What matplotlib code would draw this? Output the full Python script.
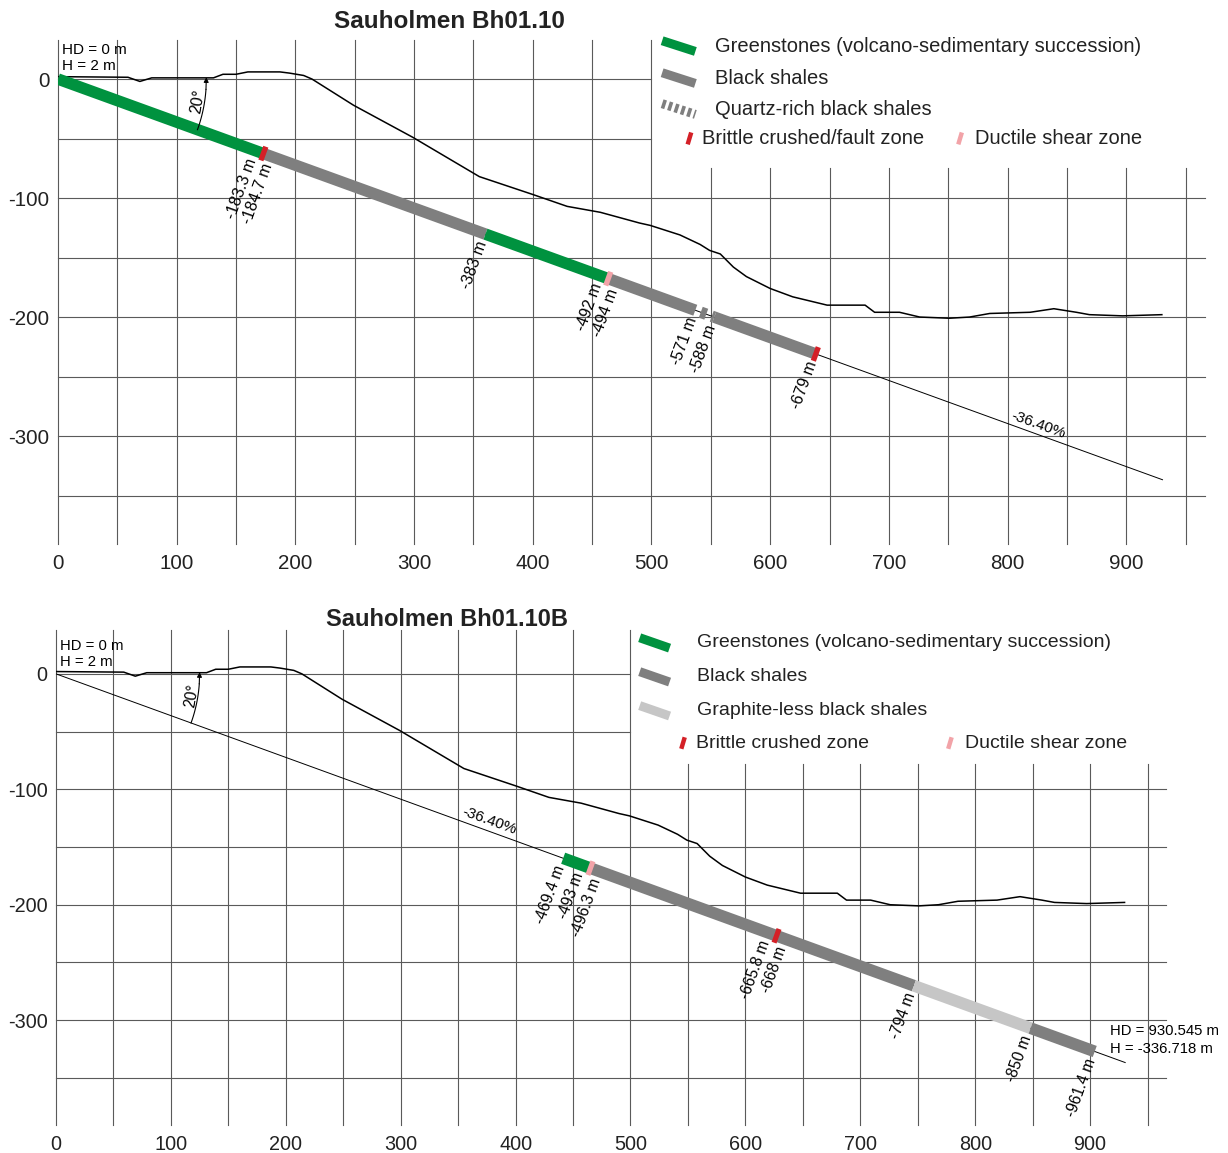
import numpy as np
import matplotlib.pyplot as plt

plt.rcParams['font.family'] = ['Liberation Sans', 'DejaVu Sans']
plt.rcParams['lines.scale_dashes'] = False
plt.rcParams['axes.unicode_minus'] = False

# end of both holes (horizontal distance / height)
end_hd = 930.545
end_h = -336.718
slope_text = '-36.40%'

# ground surface along the section (same for both holes)
terrain_hd = [0, 59, 69, 79, 131, 139, 150, 160, 187, 195, 207, 214, 249, 299,
              355, 400, 429, 457, 490, 499, 524, 541, 549, 558, 569, 580, 600,
              619, 648, 680, 688, 709, 726, 751, 768, 785, 819, 839, 858, 869,
              897, 930]
terrain_h = [2, 1.5, -2, 1, 1, 4, 4, 6, 6, 5, 3, 0, -22, -49,
             -82, -97, -107, -112, -121, -123, -131, -139, -144, -147, -158, -166, -176,
             -183, -190, -190, -196, -196, -200, -201, -200, -197, -196, -193, -196, -198,
             -199, -198]

# Bh01.10 (depths along hole, m)
a_from = [0.0, 184.7, 383.0, 494.0, 571.0, 588.0]
a_to = [183.3, 383.0, 492.0, 571.0, 588.0, 679.0]
a_kind = ['green', 'shale', 'green', 'shale', 'quartz', 'shale']
a_brittle_from = [183.3, 679.0]
a_brittle_to = [184.7, 679.0]
a_ductile_from = [492.0]
a_ductile_to = [494.0]
a_label_depth = [183.3, 184.7, 383.0, 492.0, 494.0, 571.0, 588.0, 679.0]
a_label = ['-183.3 m', '-184.7 m', '-383 m', '-492 m', '-494 m', '-571 m', '-588 m', '-679 m']
a_legend = ['Greenstones (volcano-sedimentary succession)', 'Black shales',
            'Quartz-rich black shales']
a_legend_kind = ['green', 'shale', 'quartz']
a_zone_text = ['Brittle crushed/fault zone', 'Ductile shear zone']

# Bh01.10B (the "-850 m" boundary sits at ~902 m along hole in the drawing)
b_from = [469.4, 496.3, 668.0, 794.0, 902.0]
b_to = [493.0, 665.8, 794.0, 902.0, 961.4]
b_kind = ['green', 'shale', 'shale', 'graphite', 'shale']
b_brittle_from = [665.8]
b_brittle_to = [668.0]
b_ductile_from = [493.0]
b_ductile_to = [496.3]
b_label_depth = [469.4, 493.0, 496.3, 665.8, 668.0, 794.0, 902.0, 961.4]
b_label = ['-469.4 m', '-493 m', '-496.3 m', '-665.8 m', '-668 m', '-794 m', '-850 m', '-961.4 m']
b_legend = ['Greenstones (volcano-sedimentary succession)', 'Black shales',
            'Graphite-less black shales']
b_legend_kind = ['green', 'shale', 'graphite']
b_zone_text = ['Brittle crushed zone', 'Ductile shear zone']

colors = {'green': '#00923f', 'shale': '#7f7f7f', 'quartz': '#7f7f7f',
          'graphite': '#c6c6c6', 'brittle': '#d42027', 'ductile': '#f2a3a8'}

angle = np.arctan2(-end_h, end_hd)
length = np.hypot(end_hd, end_h)
ang_deg = np.degrees(angle)


def pos(d):
    d = np.asarray(d, dtype=float)
    return d * np.cos(angle), -d * np.sin(angle)


def draw_grid(ax, top, legend_bottom):
    for x in range(0, 1000, 50):
        y1 = top if x <= 500 else legend_bottom
        ax.plot([x, x], [-391, y1], color='#5a5a5a', lw=0.8, zorder=1, clip_on=False)
    for y in range(0, -400, -50):
        x1 = 500 if y >= -50 else 966
        ax.plot([0, x1], [y, y], color='#5a5a5a', lw=0.8, zorder=1, clip_on=False)


def draw_hole(ax, froms, tos, kinds, lw):
    x, y = pos([0, length])
    ax.plot(x, y, color='k', lw=0.7, zorder=2)
    for f, t, k in zip(froms, tos, kinds):
        x, y = pos([f, t])
        if k == 'quartz':
            ax.plot(x, y, color=colors[k], lw=lw, solid_capstyle='butt',
                    dash_capstyle='butt', linestyle=(4.2, (4.2, 4.2)), zorder=3)
        else:
            ax.plot(x, y, color=colors[k], lw=lw, solid_capstyle='butt', zorder=3)


def draw_zones(ax, froms, tos, kind, lw):
    for f, t in zip(froms, tos):
        mid = (f + t) / 2
        half = max(t - f, 4.5) / 2
        x, y = pos([mid - half, mid + half])
        ax.plot(x, y, color=colors[kind], lw=lw, solid_capstyle='butt', zorder=4)


def draw_labels(ax, depths, labels, fs):
    off = 6
    dx = off * np.cos(np.radians(-90 - ang_deg))
    dy = off * np.sin(np.radians(-90 - ang_deg))
    for i, (d, s) in enumerate(zip(depths, labels)):
        va = 'center'
        if i + 1 < len(depths) and depths[i + 1] - d < 10:
            va = 'bottom'
        elif i > 0 and d - depths[i - 1] < 10:
            va = 'top'
        x, y = pos(d)
        ax.annotate(s, xy=(x, y), xytext=(dx, dy), textcoords='offset points',
                    rotation=90 - ang_deg, rotation_mode='anchor', ha='right', va=va,
                    fontsize=fs, zorder=5)


def draw_angle(ax, r, fs):
    th = np.radians(np.linspace(-ang_deg, -4, 40))
    ax.plot(r * np.cos(th), r * np.sin(th), color='k', lw=0.8, zorder=5)
    ax.annotate('', xy=(r, 1.5), xytext=(r * np.cos(np.radians(-4)), r * np.sin(np.radians(-4))),
                arrowprops=dict(arrowstyle='-|>', color='k', lw=0.8, mutation_scale=7,
                                shrinkA=0, shrinkB=0), zorder=5)
    ax.text(r - 7, -19, '20°', rotation=80, ha='center', va='center', fontsize=fs)


def draw_legend(ax, names, kinds, zone_text, tx, ys, ix0, ix1, rx, px, fs):
    for name, kind, y in zip(names, kinds, ys):
        ls = (0, (2.6, 2.2)) if kind == 'quartz' else '-'
        ax.plot([ix0, ix1], [y + 4.5, y - 4.5], color=colors[kind], lw=6.5,
                solid_capstyle='butt', dash_capstyle='butt', linestyle=ls, clip_on=False)
        ax.text(tx, y, name, fontsize=fs, va='center', ha='left', color='#222222')
    y = ys[-1] + (ys[-1] - ys[-2]) * 0.95
    for kind, x, s, t in zip(['brittle', 'ductile'], [rx, px], zone_text, [rx + 11, px + 13]):
        ax.plot([x - 1.5, x + 1.5], [y - 5, y + 5], color=colors[kind], lw=3.2,
                solid_capstyle='butt', clip_on=False)
        ax.text(t, y, s, fontsize=fs, va='center', ha='left', color='#222222')


def setup_axes(ax, top, fs):
    ax.set_xlim(0, 970)
    ax.set_ylim(-391, top)
    for sp in ax.spines.values():
        sp.set_visible(False)
    ax.set_xticks(range(0, 1000, 100))
    ax.set_yticks([0, -100, -200, -300])
    ax.tick_params(length=0, labelsize=fs, colors='#222222')
    ax.tick_params(axis='x', pad=7)
    ax.tick_params(axis='y', pad=6)


fig = plt.figure(figsize=(12.28, 11.53), dpi=100)

# ---- Bh01.10
ax1 = fig.add_axes([0.0472, 0.5279, 0.9376, 0.4376])
setup_axes(ax1, 33, 14.8)
draw_grid(ax1, 33, -75)
ax1.plot(terrain_hd, terrain_h, color='k', lw=1.1, zorder=2)
draw_hole(ax1, a_from, a_to, a_kind, 8.3)
draw_zones(ax1, a_brittle_from, a_brittle_to, 'brittle', 10.5)
draw_zones(ax1, a_ductile_from, a_ductile_to, 'ductile', 10.5)
draw_labels(ax1, a_label_depth, a_label, 11.5)
draw_angle(ax1, 125, 11.5)
ax1.text(3, 24, 'HD = 0 m', fontsize=11, va='center')
ax1.text(3, 11, 'H = 2 m', fontsize=11, va='center')
x, y = pos(876)
ax1.annotate(slope_text, xy=(x, y), xytext=(0, 2), textcoords='offset points',
             rotation=-ang_deg, rotation_mode='anchor', ha='center', va='bottom', fontsize=11)
draw_legend(ax1, a_legend, a_legend_kind, a_zone_text, 553.5, [27.7, 0.8, -25.2],
            509, 537, 532, 760, 14.5)
fig.text(0.366, 0.981, 'Sauholmen Bh01.10', ha='center', va='center',
         fontsize=17.5, fontweight='bold', color='#222222')

# ---- Bh01.10B
ax2 = fig.add_axes([0.0456, 0.0241, 0.9076, 0.4295])
setup_axes(ax2, 38, 14.3)
draw_grid(ax2, 38, -78)
ax2.plot(terrain_hd, terrain_h, color='k', lw=1.1, zorder=2)
draw_hole(ax2, b_from, b_to, b_kind, 8.5)
draw_zones(ax2, b_brittle_from, b_brittle_to, 'brittle', 10.5)
draw_zones(ax2, b_ductile_from, b_ductile_to, 'ductile', 10.5)
draw_labels(ax2, b_label_depth, b_label, 11.2)
draw_angle(ax2, 125, 11.2)
ax2.text(3.5, 24, 'HD = 0 m', fontsize=10.7, va='center')
ax2.text(3.5, 10.4, 'H = 2 m', fontsize=10.7, va='center')
x, y = pos(399)
ax2.annotate(slope_text, xy=(x, y), xytext=(0, 2), textcoords='offset points',
             rotation=-ang_deg, rotation_mode='anchor', ha='center', va='bottom', fontsize=11)
ax2.text(917, -309.5, 'HD = %.3f m' % end_hd, fontsize=10.7, va='center', clip_on=False)
ax2.text(917, -325, 'H = %.3f m' % end_h, fontsize=10.7, va='center', clip_on=False)
draw_legend(ax2, b_legend, b_legend_kind, b_zone_text, 558, [26.8, -2.6, -32.0],
            508, 534, 545.7, 778, 14)
fig.text(0.364, 0.463, 'Sauholmen Bh01.10B', ha='center', va='center',
         fontsize=17, fontweight='bold', color='#222222')

fig.savefig('out.png', dpi=100)
